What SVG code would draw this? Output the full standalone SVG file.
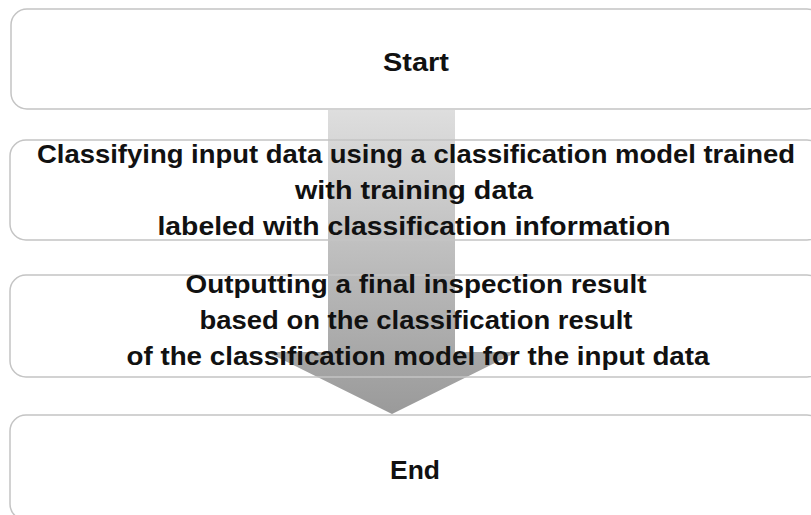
<svg xmlns="http://www.w3.org/2000/svg" width="811" height="515" viewBox="0 0 811 515">
<defs>
<linearGradient id="g" x1="0" y1="0" x2="0" y2="1" gradientUnits="objectBoundingBox">
<stop offset="0" stop-color="#dedede"/>
<stop offset="1" stop-color="#9a9a9a"/>
</linearGradient>
</defs>
<style>
.box{fill:none;stroke:#c4c4c4;stroke-width:1.5}
.t{font-family:"Liberation Sans",Arial,sans-serif;font-weight:bold;font-size:26px;fill:#111;text-anchor:middle}
</style>
<rect width="811" height="515" fill="#fff"/>
<g id="connectors">
<path d="M328,110 H455 V352 H517 L392,414 L267,352 H328 Z" fill="url(#g)"/>
</g>
<g id="start">
<rect class="box" x="11" y="9" width="812" height="100" rx="16"/>
<text class="t" x="416" y="71" textLength="66" lengthAdjust="spacingAndGlyphs">Start</text>
</g>
<g id="classify">
<rect class="box" x="10" y="140" width="813" height="100" rx="16"/>
<text class="t" x="416" y="163" textLength="758" lengthAdjust="spacingAndGlyphs">Classifying input data using a classification model trained</text>
<text class="t" x="414" y="199" textLength="238" lengthAdjust="spacingAndGlyphs">with training data</text>
<text class="t" x="414" y="235" textLength="513" lengthAdjust="spacingAndGlyphs">labeled with classification information</text>
</g>
<g id="output">
<rect class="box" x="10" y="275" width="813" height="102" rx="16"/>
<text class="t" x="416" y="293" textLength="461" lengthAdjust="spacingAndGlyphs">Outputting a final inspection result</text>
<text class="t" x="416" y="329" textLength="433" lengthAdjust="spacingAndGlyphs">based on the classification result</text>
<text class="t" x="418" y="365" textLength="583" lengthAdjust="spacingAndGlyphs">of the classification model for the input data</text>
</g>
<g id="end">
<rect class="box" x="10" y="415" width="813" height="105" rx="16"/>
<text class="t" x="415" y="479" textLength="50" lengthAdjust="spacingAndGlyphs">End</text>
</g>
</svg>
